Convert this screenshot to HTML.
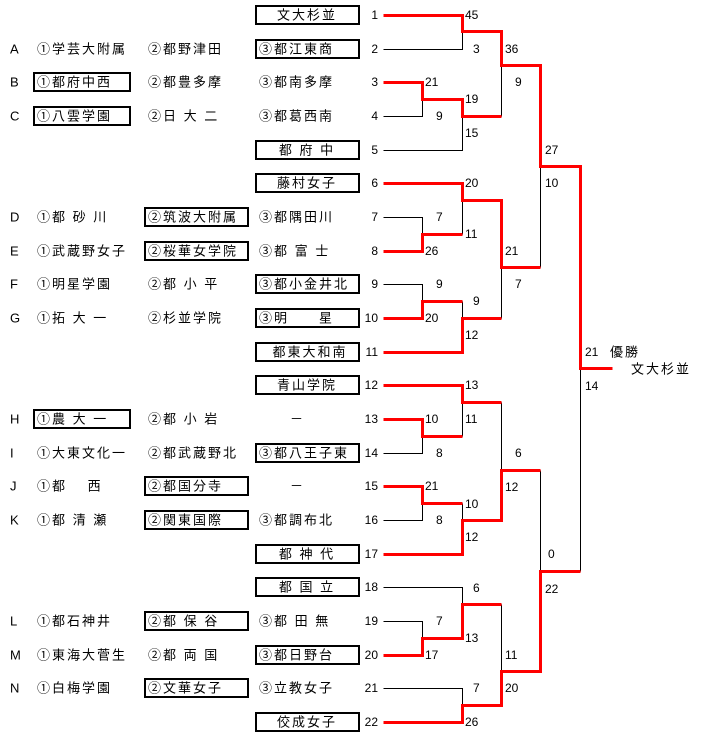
<!DOCTYPE html>
<html><head><meta charset="utf-8"><style>
html,body{margin:0;padding:0;background:#fff;}
svg{display:block;}
text{font-family:"Liberation Sans","Noto Sans CJK JP",sans-serif;font-size:13px;fill:#000;dominant-baseline:central;shape-rendering:crispEdges;}
.n{font-size:12px;}
.t{letter-spacing:2px;}
</style></head><body>
<svg width="714" height="750" viewBox="0 0 714 750" xmlns="http://www.w3.org/2000/svg">
<g fill="none" stroke="#000" stroke-width="2">
<rect x="256" y="6" width="103" height="18"/>
<rect x="256" y="40" width="103" height="18"/>
<rect x="34" y="73" width="96" height="18"/>
<rect x="34" y="107" width="96" height="18"/>
<rect x="256" y="141" width="103" height="18"/>
<rect x="256" y="174" width="103" height="18"/>
<rect x="145" y="208" width="103" height="18"/>
<rect x="145" y="242" width="103" height="18"/>
<rect x="256" y="275" width="103" height="18"/>
<rect x="256" y="309" width="103" height="18"/>
<rect x="256" y="343" width="103" height="18"/>
<rect x="256" y="376" width="103" height="18"/>
<rect x="34" y="410" width="96" height="18"/>
<rect x="256" y="444" width="103" height="18"/>
<rect x="145" y="477" width="103" height="18"/>
<rect x="145" y="511" width="103" height="18"/>
<rect x="256" y="545" width="103" height="18"/>
<rect x="256" y="578" width="103" height="18"/>
<rect x="145" y="612" width="103" height="18"/>
<rect x="256" y="646" width="103" height="18"/>
<rect x="145" y="679" width="103" height="18"/>
<rect x="256" y="713" width="103" height="18"/>
</g>
<g class="t">
<text x="307" y="15" text-anchor="middle">文大杉並</text>
<text x="10" y="49">A</text><text x="37" y="49">①学芸大附属</text><text x="148" y="49">②都野津田</text><text x="259" y="49">③都江東商</text>
<text x="10" y="82">B</text><text x="37" y="82">①都府中西</text><text x="148" y="82">②都豊多摩</text><text x="259" y="82">③都南多摩</text>
<text x="10" y="116">C</text><text x="37" y="116">①八雲学園</text><text x="148" y="116">②日 大 二</text><text x="259" y="116">③都葛西南</text>
<text x="307" y="150" text-anchor="middle">都 府 中</text>
<text x="307" y="183" text-anchor="middle">藤村女子</text>
<text x="10" y="217">D</text><text x="37" y="217">①都 砂 川</text><text x="148" y="217">②筑波大附属</text><text x="259" y="217">③都隅田川</text>
<text x="10" y="251">E</text><text x="37" y="251">①武蔵野女子</text><text x="148" y="251">②桜華女学院</text><text x="259" y="251">③都 富 士</text>
<text x="10" y="284">F</text><text x="37" y="284">①明星学園</text><text x="148" y="284">②都 小 平</text><text x="259" y="284">③都小金井北</text>
<text x="10" y="318">G</text><text x="37" y="318">①拓 大 一</text><text x="148" y="318">②杉並学院</text><text x="259" y="318">③明　　星</text>
<text x="310" y="352" text-anchor="middle">都東大和南</text>
<text x="307" y="385" text-anchor="middle">青山学院</text>
<text x="10" y="419">H</text><text x="37" y="419">①農 大 一</text><text x="148" y="419">②都 小 岩</text><text x="290" y="419">－</text>
<text x="10" y="453">I</text><text x="37" y="453">①大東文化一</text><text x="148" y="453">②都武蔵野北</text><text x="259" y="453">③都八王子東</text>
<text x="10" y="486">J</text><text x="37" y="486">①都　 西</text><text x="148" y="486">②都国分寺</text><text x="290" y="486">－</text>
<text x="10" y="520">K</text><text x="37" y="520">①都 清 瀬</text><text x="148" y="520">②関東国際</text><text x="259" y="520">③都調布北</text>
<text x="307" y="554" text-anchor="middle">都 神 代</text>
<text x="307" y="587" text-anchor="middle">都 国 立</text>
<text x="10" y="621">L</text><text x="37" y="621">①都石神井</text><text x="148" y="621">②都 保 谷</text><text x="259" y="621">③都 田 無</text>
<text x="10" y="655">M</text><text x="37" y="655">①東海大菅生</text><text x="148" y="655">②都 両 国</text><text x="259" y="655">③都日野台</text>
<text x="10" y="688">N</text><text x="37" y="688">①白梅学園</text><text x="148" y="688">②文華女子</text><text x="259" y="688">③立教女子</text>
<text x="307" y="722" text-anchor="middle">佼成女子</text>
<text x="610" y="352">優勝</text>
<text x="631" y="369">文大杉並</text>
</g>
<g class="n" text-anchor="end">
<text class="n" x="378" y="15">1</text><text class="n" x="378" y="49">2</text><text class="n" x="378" y="82">3</text><text class="n" x="378" y="116">4</text><text class="n" x="378" y="150">5</text><text class="n" x="378" y="183">6</text><text class="n" x="378" y="217">7</text><text class="n" x="378" y="251">8</text><text class="n" x="378" y="284">9</text><text class="n" x="378" y="318">10</text><text class="n" x="378" y="352">11</text><text class="n" x="378" y="385">12</text><text class="n" x="378" y="419">13</text><text class="n" x="378" y="453">14</text><text class="n" x="378" y="486">15</text><text class="n" x="378" y="520">16</text><text class="n" x="378" y="554">17</text><text class="n" x="378" y="587">18</text><text class="n" x="378" y="621">19</text><text class="n" x="378" y="655">20</text><text class="n" x="378" y="688">21</text><text class="n" x="378" y="722">22</text>
</g>
<g>
<text class="n" x="465" y="15">45</text><text class="n" x="473" y="49">3</text>
<text class="n" x="425" y="82">21</text><text class="n" x="436" y="116">9</text>
<text class="n" x="465" y="99">19</text><text class="n" x="465" y="133">15</text>
<text class="n" x="505" y="49">36</text><text class="n" x="515" y="82">9</text>
<text class="n" x="465" y="183">20</text><text class="n" x="465" y="234">11</text>
<text class="n" x="436" y="217">7</text><text class="n" x="425" y="251">26</text>
<text class="n" x="436" y="284">9</text><text class="n" x="425" y="318">20</text>
<text class="n" x="473" y="301">9</text><text class="n" x="465" y="335">12</text>
<text class="n" x="505" y="251">21</text><text class="n" x="515" y="284">7</text>
<text class="n" x="545" y="150">27</text><text class="n" x="545" y="183">10</text>
<text class="n" x="585" y="352">21</text><text class="n" x="585" y="386">14</text>
<text class="n" x="465" y="385">13</text><text class="n" x="465" y="419">11</text>
<text class="n" x="425" y="419">10</text><text class="n" x="436" y="453">8</text>
<text class="n" x="425" y="486">21</text><text class="n" x="436" y="520">8</text>
<text class="n" x="465" y="504">10</text><text class="n" x="465" y="537">12</text>
<text class="n" x="515" y="453">6</text><text class="n" x="505" y="487">12</text>
<text class="n" x="473" y="588">6</text><text class="n" x="465" y="638">13</text>
<text class="n" x="436" y="621">7</text><text class="n" x="425" y="655">17</text>
<text class="n" x="473" y="688">7</text><text class="n" x="465" y="722">26</text>
<text class="n" x="505" y="655">11</text><text class="n" x="505" y="688">20</text>
<text class="n" x="548" y="554">0</text><text class="n" x="545" y="589">22</text>
</g>
<g fill="none" stroke="#000" stroke-width="1" transform="translate(0.5,0.5)">
<polyline points="383,49 462,49 462,31"/>
<polyline points="383,116 422,116 422,99"/>
<polyline points="383,150 462,150 462,116"/>
<polyline points="501,116 501,65"/>
<polyline points="383,217 422,217 422,234"/>
<polyline points="462,234 462,200"/>
<polyline points="383,284 422,284 422,301"/>
<polyline points="462,301 462,318"/>
<polyline points="501,318 501,267"/>
<polyline points="540,267 540,166"/>
<polyline points="580,571 580,368"/>
<polyline points="383,453 422,453 422,436"/>
<polyline points="462,436 462,402"/>
<polyline points="383,520 422,520 422,503"/>
<polyline points="462,503 462,520"/>
<polyline points="501,402 501,470"/>
<polyline points="383,621 422,621 422,638"/>
<polyline points="383,587 462,587 462,604"/>
<polyline points="383,688 462,688 462,705"/>
<polyline points="501,604 501,671"/>
<polyline points="540,470 540,571"/>
</g>
<g fill="none" stroke="#f00" stroke-width="3" transform="translate(0.5,0.5)">
<polyline points="383,15 462,15 462,31 501,31 501,65 540,65 540,166 580,166 580,368 612,368"/>
<polyline points="383,82 422,82 422,99 462,99 462,116 501,116"/>
<polyline points="383,183 462,183 462,200 501,200 501,267 540,267"/>
<polyline points="383,251 422,251 422,234 462,234"/>
<polyline points="383,318 422,318 422,301 462,301"/>
<polyline points="383,352 462,352 462,318 501,318"/>
<polyline points="383,385 462,385 462,402 501,402"/>
<polyline points="383,419 422,419 422,436 462,436"/>
<polyline points="383,486 422,486 422,503 462,503"/>
<polyline points="383,554 462,554 462,520 501,520 501,470 540,470"/>
<polyline points="383,655 422,655 422,638 462,638 462,604 501,604"/>
<polyline points="383,722 462,722 462,705 501,705 501,671 540,671 540,571 580,571"/>
</g>
</svg>
</body></html>
